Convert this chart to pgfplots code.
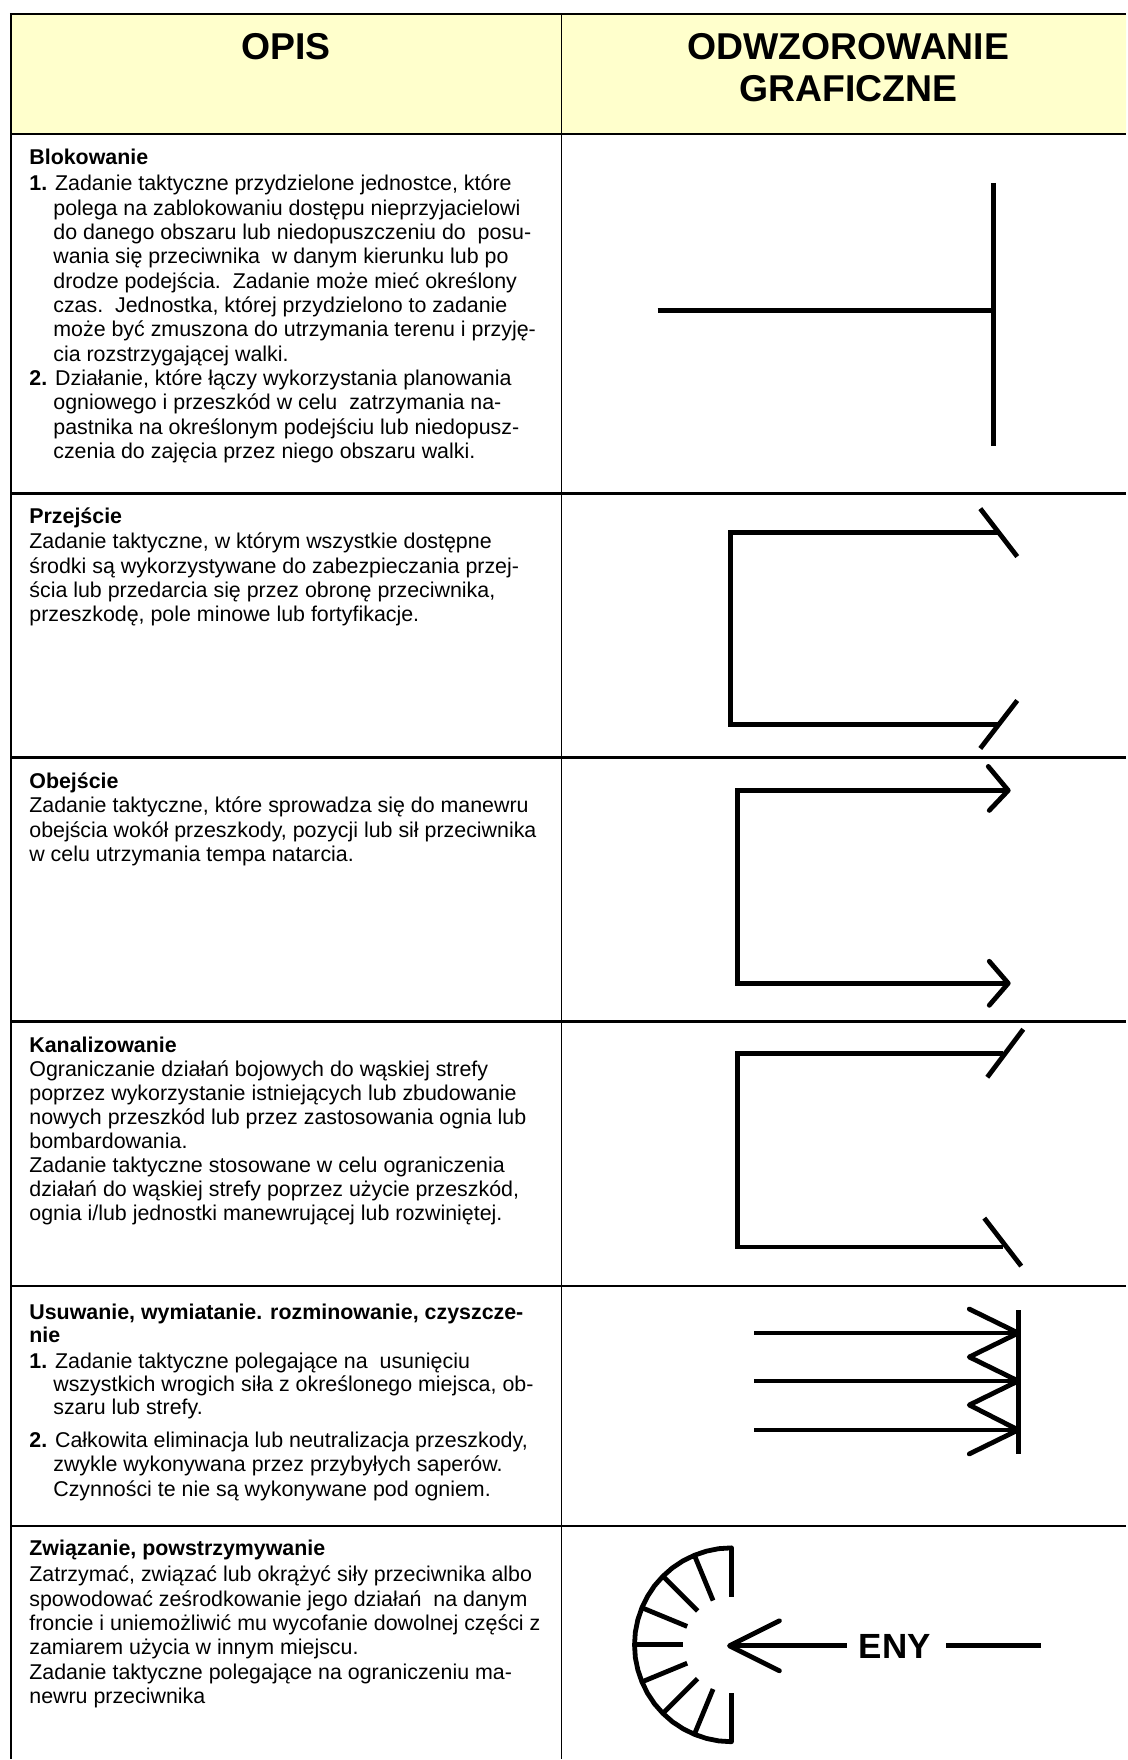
\documentclass[border=0pt]{standalone}
\usepackage{fontspec}
\setmainfont{Liberation Sans}
\usepackage{pgfplots}
\pgfplotsset{compat=1.18}
\definecolor{hdr}{HTML}{FFFFCC}
\newcommand{\T}[3]{\node[anchor=base west,inner sep=0pt,font=\fontsize{10.7}{12.8}\selectfont] at (axis cs:#1,#2) {#3};}
\begin{document}
\begin{tikzpicture}
\begin{axis}[hide axis, scale only axis, width=563.5pt, height=880pt,
  xmin=0, xmax=1127, ymin=0, ymax=1760, y dir=reverse, clip=false, no markers,
  sym/.style={black, line width=2.4pt, line cap=round, line join=round},
  box/.style={black, line width=2.4pt, line cap=butt, line join=miter},
  grid/.style={black, line width=1.3pt}]
% bounding
\addplot[draw=none] coordinates {(0,0) (1127,1760)};
% header fill
\addplot[fill=hdr, draw=none] coordinates {(11,14) (1127,14) (1127,134) (11,134) (11,14)};
% table lines
\addplot[grid] coordinates {(10,14) (1127,14)};
\addplot[grid] coordinates {(11,14) (11,1760)};
\addplot[black, line width=0.8pt] coordinates {(562,14) (562,1760)};
\addplot[grid] coordinates {(11,134) (1127,134)};
\addplot[grid] coordinates {(11,494) (1127,494)};
\addplot[grid] coordinates {(11,758) (1127,758)};
\addplot[grid] coordinates {(11,1022) (1127,1022)};
\addplot[grid] coordinates {(11,1287) (1127,1287)};
\addplot[grid] coordinates {(11,1527) (1127,1527)};
% header text
\node[anchor=base, inner sep=0pt, font=\fontsize{18.7}{20}\selectfont\bfseries] at (axis cs:286,60) {OPIS};
\node[anchor=base, inner sep=0pt, font=\fontsize{18.7}{20}\selectfont\bfseries] at (axis cs:849,60) {ODWZOROWANIE};
\node[anchor=base, inner sep=0pt, font=\fontsize{18.7}{20}\selectfont\bfseries] at (axis cs:849,102) {GRAFICZNE};
% ---- symbols ----
% Blokowanie
\addplot[box] coordinates {(994,183) (994,446)};
\addplot[box] coordinates {(658,311) (994,311)};
% Przejscie
\addplot[box] coordinates {(999,533) (731,533) (731,725) (999,725)};
\addplot[box] coordinates {(981,509) (1018,557)};
\addplot[box] coordinates {(981,749) (1018,701)};
% Obejscie
\addplot[box] coordinates {(1008,791) (738,791) (738,984) (1008,984)};
\addplot[sym] coordinates {(989,767) (1009,791) (990,811)};
\addplot[sym] coordinates {(990,962) (1009,984) (990,1006)};
% Kanalizowanie
\addplot[box] coordinates {(1004,1054) (738,1054) (738,1248) (1004,1248)};
\addplot[box] coordinates {(988,1078) (1024,1030)};
\addplot[box] coordinates {(985,1219) (1022,1267)};
% Usuwanie
\addplot[box] coordinates {(1019,1311) (1019,1455)};
\addplot[box] coordinates {(755,1334) (1019,1334)};
\addplot[box] coordinates {(755,1382) (1019,1382)};
\addplot[box] coordinates {(755,1431) (1019,1431)};
\addplot[sym] coordinates {(970,1310) (1019,1334) (970,1358) (1019,1382) (970,1406) (1019,1431) (970,1455)};
% Zwiazanie: arc
\addplot[sym] coordinates {(732,1549) (719.3,1549.8) (706.9,1552.3) (694.9,1556.4) (683.5,1562.0) (672.9,1569.0) (663.4,1577.4) (655.0,1586.9) (648.0,1597.5) (642.4,1608.9) (638.3,1620.9) (635.8,1633.3) (635,1646) (635.8,1658.7) (638.3,1671.1) (642.4,1683.1) (648.0,1694.5) (655.0,1705.1) (663.4,1714.6) (672.9,1723.0) (683.5,1730.0) (694.9,1735.6) (706.9,1739.7) (719.3,1742.2) (732,1743)};
% hatches
\addplot[sym, line cap=butt] coordinates {(732,1549) (732,1598)};
\addplot[sym, line cap=butt] coordinates {(694.9,1556.4) (713.6,1601.7)};
\addplot[sym, line cap=butt] coordinates {(663.4,1577.4) (698.1,1612.1)};
\addplot[sym, line cap=butt] coordinates {(642.4,1608.9) (687.7,1627.6)};
\addplot[sym, line cap=butt] coordinates {(635,1646) (683,1646)};
\addplot[sym, line cap=butt] coordinates {(642.4,1683.1) (687.7,1664.4)};
\addplot[sym, line cap=butt] coordinates {(663.4,1714.6) (698.1,1679.9)};
\addplot[sym, line cap=butt] coordinates {(694.9,1735.6) (713.6,1690.3)};
\addplot[sym, line cap=butt] coordinates {(732,1743) (732,1694)};
% arrow
\addplot[sym, line cap=butt] coordinates {(731,1647) (848,1647)};
\addplot[sym] coordinates {(780,1622) (730,1647) (780,1672)};
\node[anchor=base, inner sep=0pt, font=\fontsize{17.5}{20}\selectfont\bfseries] at (axis cs:895.5,1659.5) {ENY};
\addplot[sym, line cap=butt] coordinates {(947,1647) (1042,1647)};
% ---- text ----
\T{29}{165}{\textbf{Blokowanie}}
\T{29}{191}{\textbf{1.} Zadanie taktyczne przydzielone jednostce, które}
\T{53}{215.5}{polega na zablokowaniu dostępu nieprzyjacielowi}
\T{53}{240}{do danego obszaru lub niedopuszczeniu do\ \ posu-}
\T{53}{264}{wania się przeciwnika\ \ w danym kierunku lub po}
\T{53}{288.5}{drodze podejścia.\ \ Zadanie może mieć określony}
\T{53}{313}{czas.\ \ Jednostka, której przydzielono to zadanie}
\T{53}{337}{może być zmuszona do utrzymania terenu i przyję-}
\T{53}{361.5}{cia rozstrzygającej walki.}
\T{29}{386}{\textbf{2.} Działanie, które łączy wykorzystania planowania}
\T{53}{410}{ogniowego i przeszkód w celu\ \ zatrzymania na-}
\T{53}{434.5}{pastnika na określonym podejściu lub niedopusz-}
\T{53}{459}{czenia do zajęcia przez niego obszaru walki.}
%
\T{29}{524}{\textbf{Przejście}}
\T{29}{549}{Zadanie taktyczne, w którym wszystkie dostępne}
\T{29}{573.5}{środki są wykorzystywane do zabezpieczania przej-}
\T{29}{598}{ścia lub przedarcia się przez obronę przeciwnika,}
\T{29}{622}{przeszkodę, pole minowe lub fortyfikacje.}
%
\T{29}{789}{\textbf{Obejście}}
\T{29}{813.5}{Zadanie taktyczne, które sprowadza się do manewru}
\T{29}{838}{obejścia wokół przeszkody, pozycji lub sił przeciwnika}
\T{29}{862}{w celu utrzymania tempa natarcia.}
%
\T{29}{1053}{\textbf{Kanalizowanie}}
\T{29}{1077}{Ograniczanie działań bojowych do wąskiej strefy}
\T{29}{1101}{poprzez wykorzystanie istniejących lub zbudowanie}
\T{29}{1125}{nowych przeszkód lub przez zastosowania ognia lub}
\T{29}{1149}{bombardowania.}
\T{29}{1173}{Zadanie taktyczne stosowane w celu ograniczenia}
\T{29}{1197}{działań do wąskiej strefy poprzez użycie przeszkód,}
\T{29}{1221}{ognia i/lub jednostki manewrującej lub rozwiniętej.}
%
\T{29}{1320}{\textbf{Usuwanie, wymiatanie. rozminowanie, czyszcze-}}
\T{29}{1343}{\textbf{nie}}
\T{29}{1369}{\textbf{1.} Zadanie taktyczne polegające na\ \ usunięciu}
\T{53}{1393}{wszystkich wrogich siła z określonego miejsca, ob-}
\T{53}{1416}{szaru lub strefy.}
\T{29}{1449}{\textbf{2.} Całkowita eliminacja lub neutralizacja przeszkody,}
\T{53}{1473}{zwykle wykonywana przez przybyłych saperów.}
\T{53}{1498}{Czynności te nie są wykonywane pod ogniem.}
%
\T{29}{1557}{\textbf{Związanie, powstrzymywanie}}
\T{29}{1583}{Zatrzymać, związać lub okrążyć siły przeciwnika albo}
\T{29}{1607.5}{spowodować ześrodkowanie jego działań\ \ na danym}
\T{29}{1632}{froncie i uniemożliwić mu wycofanie dowolnej części z}
\T{29}{1656}{zamiarem użycia w innym miejscu.}
\T{29}{1680.5}{Zadanie taktyczne polegające na ograniczeniu ma-}
\T{29}{1705}{newru przeciwnika}
\end{axis}
\end{tikzpicture}
\end{document}
